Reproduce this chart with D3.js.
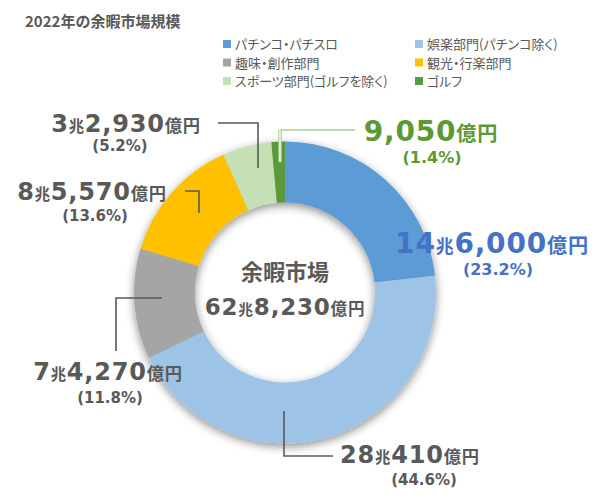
<!DOCTYPE html>
<meta charset="utf-8">
<script src="https://d3js.org/d3.v7.min.js"></script>

<svg id="chart" width="600" height="500"></svg>

<style>
body { margin: 0; background: #fff; }
svg { display: block; font-family: 'Noto Sans CJK JP', sans-serif; }
text { fill: #595959; font-weight: 700; }
.title { font-size: 15px; }
.legend text { font-size: 13px; font-weight: 400; font-feature-settings: "palt"; }
.num { font-family: 'DejaVu Sans', sans-serif; }
.pct { font-family: 'DejaVu Sans', sans-serif; }
</style>

<script>
// values in 億円
const categories = ['パチンコ・パチスロ', '娯楽部門(パチンコ除く)', '趣味・創作部門', '観光・行楽部門', 'スポーツ部門(ゴルフを除く)', 'ゴルフ'];
const values = [146000, 280410, 74270, 85570, 32930, 9050];
const shares = [23.2, 44.6, 11.8, 13.6, 5.2, 1.4];
const colors = ['#5b9bd5', '#9dc3e6', '#a5a5a5', '#ffc000', '#c5e0b4', '#5a9a3a'];

// label layout (center x, baseline y, size, colour, leader polyline)
const labelLayout = [
  { x: 492, y: 253, size: 28, px: 498, py: 275, psize: 16, color: '#4472c4', leader: null },
  { x: 410, y: 463, size: 24, px: 424, py: 485, psize: 15, color: '#595959', leader: [[284, 411], [284, 456], [333, 456]] },
  { x: 108, y: 380, size: 24, px: 110, py: 403, psize: 15, color: '#595959', leader: [[162, 298], [116, 298], [116, 351]] },
  { x: 92, y: 200, size: 24, px: 95, py: 221, psize: 15, color: '#595959', leader: [[185, 191], [199, 191], [199, 213]] },
  { x: 126, y: 132, size: 24, px: 120, py: 151, psize: 15, color: '#595959', leader: [[218, 123], [258, 123], [258, 168]] },
  { x: 431, y: 141, size: 28, px: 432, py: 163, psize: 16, color: '#5b9a32', leader: [[355, 130], [280, 130], [280, 162]], leaderColor: '#a9d18e' }
];

const svg = d3.select('#chart');
const cx = 285, cy = 292.5;
const outerR = 151, innerR = 90;

const defs = svg.append('defs');
const f = defs.append('filter').attr('id', 'shadow')
  .attr('x', '-20%').attr('y', '-20%').attr('width', '140%').attr('height', '140%');
f.append('feGaussianBlur').attr('in', 'SourceAlpha').attr('stdDeviation', 5);
f.append('feOffset').attr('dx', 0).attr('dy', 3).attr('result', 'b');
f.append('feComponentTransfer').append('feFuncA').attr('type', 'linear').attr('slope', 0.45);
const fm = f.append('feMerge');
fm.append('feMergeNode');
fm.append('feMergeNode').attr('in', 'SourceGraphic');

svg.append('text')
  .attr('class', 'title')
  .attr('x', 25)
  .attr('y', 27)
  .text('2022年の余暇市場規模');

// legend
const legend = svg.append('g').attr('class', 'legend');
categories.forEach((c, i) => {
  const lx = i % 2 === 0 ? 223 : 415;
  const ly = 44 + Math.floor(i / 2) * 18.5;
  legend.append('rect')
    .attr('x', lx).attr('y', ly - 4)
    .attr('width', 8).attr('height', 8)
    .attr('fill', colors[i]);
  legend.append('text')
    .attr('x', lx + 12)
    .attr('y', ly + 5)
    .text(c);
});

// donut
const pie = d3.pie().sort(null).value(d => d);
const arc = d3.arc().innerRadius(innerR).outerRadius(outerR);

const donut = svg.append('g')
  .attr('transform', `translate(${cx}, ${cy})`)
  .attr('filter', 'url(#shadow)');

donut.selectAll('path')
  .data(pie(values))
  .enter()
  .append('path')
  .attr('d', arc)
  .attr('fill', (d, i) => colors[i]);

// leader lines
const line = d3.line();
labelLayout.forEach((l, i) => {
  if (!l.leader) return;
  if (l.leaderColor) {
    svg.append('path')
      .attr('d', line(l.leader))
      .attr('fill', 'none')
      .attr('stroke', l.leaderColor)
      .attr('stroke-width', 1.5);
    svg.append('path')
      .attr('d', line(l.leader.slice(1)))
      .attr('fill', 'none')
      .attr('stroke', l.leaderColor)
      .attr('stroke-width', 3.5);
    svg.append('path')
      .attr('d', line(l.leader.slice(1)))
      .attr('fill', 'none')
      .attr('stroke', '#fff')
      .attr('stroke-width', 1.2);
  } else {
    svg.append('path')
      .attr('d', line(l.leader))
      .attr('fill', 'none')
      .attr('stroke', '#595959')
      .attr('stroke-width', 1.6);
  }
});

// 兆/億 formatted amount
function amount(sel, v, size, color) {
  const cho = Math.floor(v / 10000);
  const oku = v % 10000;
  if (cho > 0) {
    sel.append('tspan').attr('class', 'num').attr('font-size', size).attr('fill', color).text(cho);
    sel.append('tspan').attr('font-size', size * 0.64).attr('fill', color).text('兆');
  }
  sel.append('tspan').attr('class', 'num').attr('font-size', size).attr('fill', color).text(d3.format(',')(oku));
  sel.append('tspan').attr('font-size', size * 0.72).attr('fill', color).text('億円');
}

labelLayout.forEach((l, i) => {
  const t = svg.append('text')
    .attr('x', l.x).attr('y', l.y)
    .attr('text-anchor', 'middle')
    .attr('letter-spacing', 0.8);
  amount(t, values[i], l.size, l.color);
  svg.append('text')
    .attr('class', 'pct')
    .attr('x', l.px).attr('y', l.py)
    .attr('text-anchor', 'middle')
    .attr('font-size', l.psize)
    .attr('fill', l.color)
    .style('fill', l.color)
    .text(`(${shares[i].toFixed(1)}%)`);
});

// center
svg.append('text')
  .attr('x', cx).attr('y', 280)
  .attr('text-anchor', 'middle')
  .attr('font-size', 22)
  .text('余暇市場');
const tot = svg.append('text')
  .attr('x', cx).attr('y', 315)
  .attr('text-anchor', 'middle')
  .attr('letter-spacing', 0.8);
amount(tot, d3.sum(values), 23, '#595959');

// tspans with inline colour override css
svg.selectAll('tspan').each(function () {
  d3.select(this).style('fill', d3.select(this).attr('fill'));
});
</script>
